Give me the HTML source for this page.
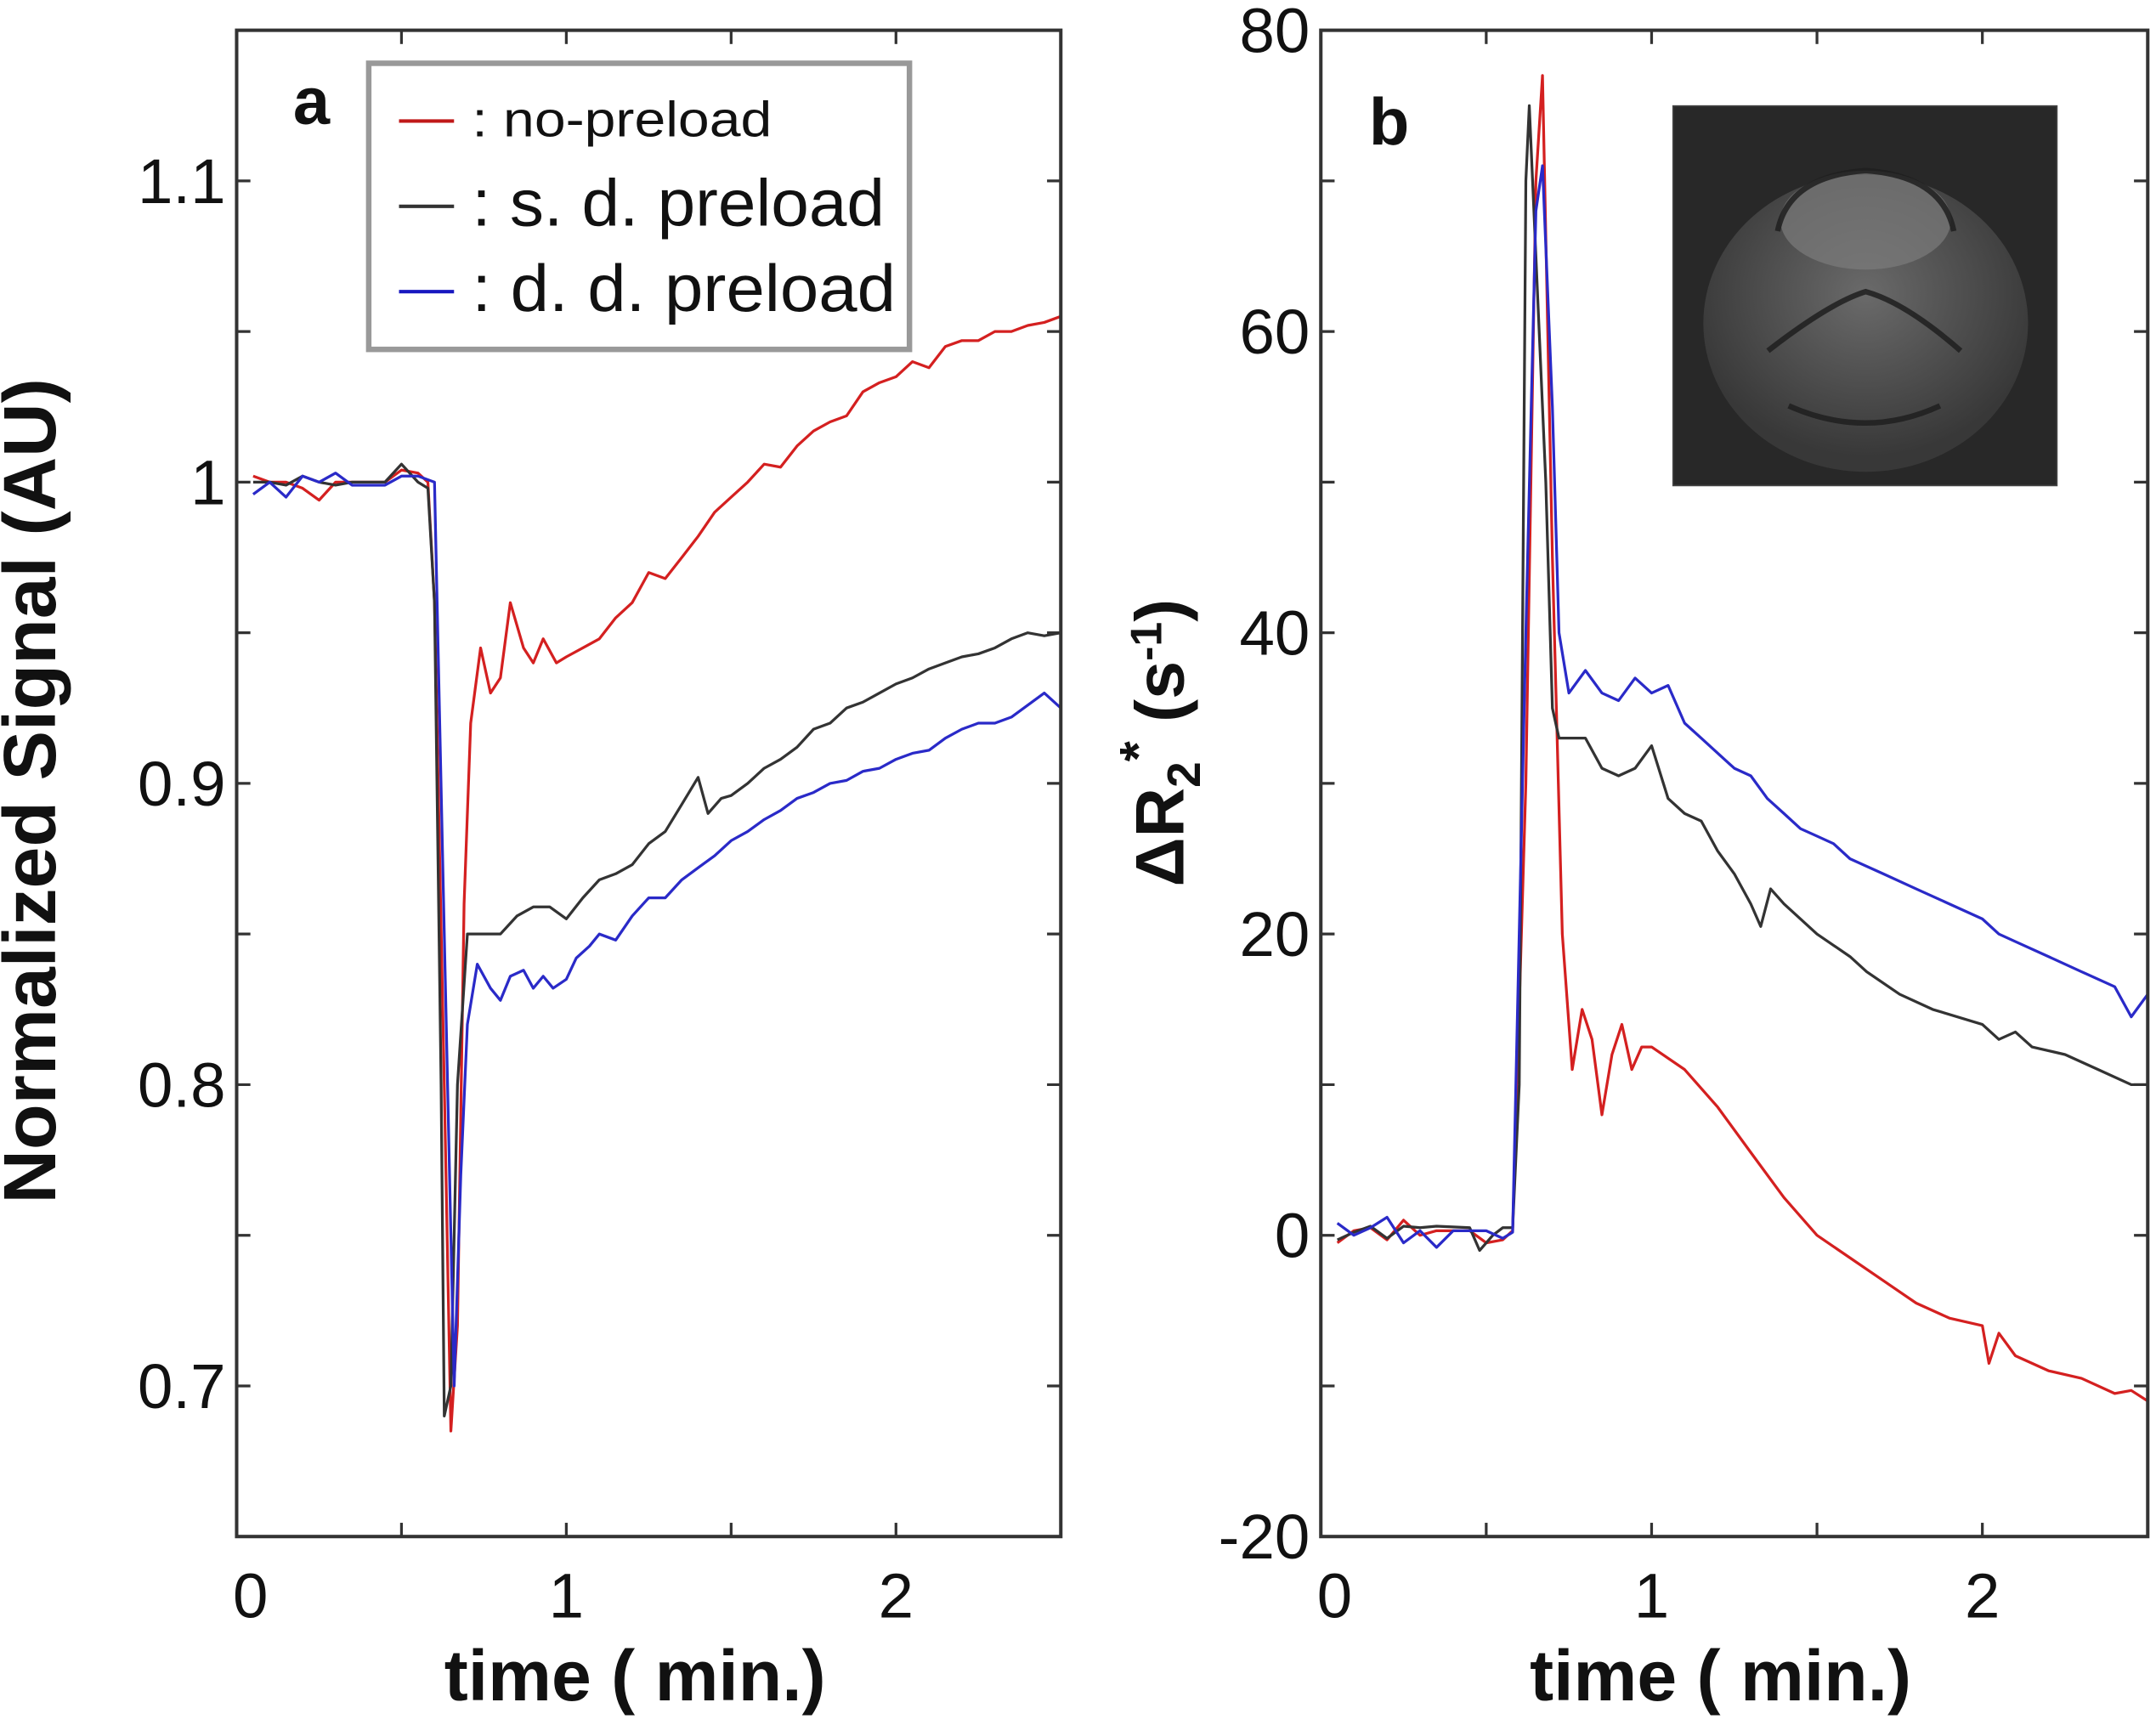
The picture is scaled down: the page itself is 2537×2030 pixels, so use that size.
<!DOCTYPE html>
<html><head><meta charset="utf-8"><style>
html,body{margin:0;padding:0;background:#fff;}
svg{display:block;font-family:"Liberation Sans",sans-serif;}
</style></head><body>
<svg id="fig" width="2537" height="2030" viewBox="0 0 1567 1254" preserveAspectRatio="none" xmlns="http://www.w3.org/2000/svg">
<defs>
<radialGradient id="brain" cx="0.5" cy="0.4" r="0.55">
<stop offset="0" stop-color="#6a6a6a"/><stop offset="0.6" stop-color="#4c4c4c"/><stop offset="1" stop-color="#383838"/>
</radialGradient>
</defs>
<g id="pa"></g>
<g id="pb"></g>
</svg>
<script>
// ---- data panel a (Normalized Signal) ----
const aRedT=[0.05,0.1,0.15,0.2,0.25,0.3,0.35,0.45,0.5,0.55,0.58,0.6,0.63,0.65,0.67,0.69,0.71,0.74,0.77,0.8,0.83,0.87,0.9,0.93,0.97,1.0,1.05,1.1,1.15,1.2,1.25,1.3,1.35,1.4,1.45,1.5,1.55,1.6,1.65,1.7,1.75,1.8,1.85,1.9,1.95,2.0,2.05,2.1,2.15,2.2,2.25,2.3,2.35,2.4,2.45,2.5];
const aRedV=[1.002,1.0,1.0,0.998,0.994,1.0,1.0,1.0,1.004,1.003,1.0,0.96,0.8,0.685,0.72,0.86,0.92,0.945,0.93,0.935,0.96,0.945,0.94,0.948,0.94,0.942,0.945,0.948,0.955,0.96,0.97,0.968,0.975,0.982,0.99,0.995,1.0,1.006,1.005,1.012,1.017,1.02,1.022,1.03,1.033,1.035,1.04,1.038,1.045,1.047,1.047,1.05,1.05,1.052,1.053,1.055];
const aBlkT=[0.05,0.1,0.15,0.2,0.25,0.3,0.35,0.45,0.5,0.55,0.58,0.6,0.62,0.63,0.65,0.67,0.7,0.75,0.8,0.85,0.9,0.95,1.0,1.05,1.1,1.15,1.2,1.25,1.3,1.35,1.4,1.43,1.47,1.5,1.55,1.6,1.65,1.7,1.75,1.8,1.85,1.9,1.95,2.0,2.05,2.1,2.15,2.2,2.25,2.3,2.35,2.4,2.45,2.5];
const aBlkV=[1.0,1.0,0.999,1.002,1.0,0.999,1.0,1.0,1.006,1.0,0.998,0.96,0.8,0.69,0.7,0.8,0.85,0.85,0.85,0.856,0.859,0.859,0.855,0.862,0.868,0.87,0.873,0.88,0.884,0.893,0.902,0.89,0.895,0.896,0.9,0.905,0.908,0.912,0.918,0.92,0.925,0.927,0.93,0.933,0.935,0.938,0.94,0.942,0.943,0.945,0.948,0.95,0.949,0.95];
const aBluT=[0.05,0.1,0.15,0.2,0.25,0.3,0.35,0.45,0.5,0.55,0.6,0.63,0.66,0.68,0.7,0.73,0.77,0.8,0.83,0.87,0.9,0.93,0.96,1.0,1.03,1.07,1.1,1.15,1.2,1.25,1.3,1.35,1.4,1.45,1.5,1.55,1.6,1.65,1.7,1.75,1.8,1.85,1.9,1.95,2.0,2.05,2.1,2.15,2.2,2.25,2.3,2.35,2.4,2.45,2.5];
const aBluV=[0.996,1.0,0.995,1.002,1.0,1.003,0.999,0.999,1.002,1.002,1.0,0.85,0.7,0.77,0.82,0.84,0.832,0.828,0.836,0.838,0.832,0.836,0.832,0.835,0.842,0.846,0.85,0.848,0.856,0.862,0.862,0.868,0.872,0.876,0.881,0.884,0.888,0.891,0.895,0.897,0.9,0.901,0.904,0.905,0.908,0.91,0.911,0.915,0.918,0.92,0.92,0.922,0.926,0.93,0.925];
const aYTicks=[0.7,0.8,0.9,1.0,1.1];
const aYLabels=["0.7","0.8","0.9","1","1.1"];
// ---- data panel b (ΔR2*) ----
const bRedT=[0.05,0.1,0.15,0.2,0.25,0.3,0.35,0.45,0.5,0.55,0.58,0.62,0.65,0.67,0.7,0.73,0.76,0.79,0.82,0.85,0.88,0.91,0.94,0.97,1.0,1.1,1.2,1.3,1.4,1.5,1.6,1.7,1.8,1.9,2.0,2.02,2.05,2.1,2.2,2.3,2.4,2.45,2.5];
const bRedV=[-0.5,0.3,0.5,-0.3,1.0,0,0.3,0.3,-0.5,-0.3,0.3,30,70,77,45,20,11,15,13,8,12,14,11,12.5,12.5,11,8.5,5.5,2.5,0,-1.5,-3,-4.5,-5.5,-6,-8.5,-6.5,-8,-9,-9.5,-10.5,-10.3,-11];
const bBlkT=[0.05,0.1,0.15,0.2,0.25,0.3,0.35,0.45,0.48,0.52,0.55,0.58,0.6,0.62,0.63,0.65,0.68,0.7,0.72,0.8,0.85,0.9,0.95,1.0,1.05,1.1,1.15,1.2,1.25,1.3,1.33,1.36,1.4,1.5,1.6,1.65,1.75,1.85,2.0,2.05,2.1,2.15,2.25,2.35,2.45,2.5];
const bBlkV=[-0.3,0.2,0.6,-0.2,0.6,0.5,0.6,0.5,-1,0,0.5,0.5,10,70,75,65,50,35,33,33,31,30.5,31,32.5,29,28,27.5,25.5,24,22,20.5,23,22,20,18.5,17.5,16,15,14,13,13.5,12.5,12,11,10,10];
const bBluT=[0.05,0.1,0.15,0.2,0.25,0.3,0.35,0.4,0.5,0.55,0.58,0.62,0.65,0.67,0.7,0.72,0.75,0.8,0.85,0.9,0.95,1.0,1.05,1.1,1.15,1.2,1.25,1.3,1.35,1.4,1.45,1.5,1.55,1.6,1.7,1.8,1.9,2.0,2.05,2.1,2.2,2.3,2.4,2.45,2.5];
const bBluV=[0.8,0,0.5,1.2,-0.5,0.3,-0.8,0.3,0.3,-0.2,0.2,40,68,71,55,40,36,37.5,36,35.5,37,36,36.5,34,33,32,31,30.5,29,28,27,26.5,26,25,24,23,22,21,20,19.5,18.5,17.5,16.5,14.5,16];
const bYTicks=[-20,0,20,40,60,80];
const bYLabels=["-20","0","20","40","60","80"];
const xTicks=[0,1,2];
const xLabels=["0","1","2"];
const NS="http://www.w3.org/2000/svg";
function mk(parent,tag,attrs,txt){const e=document.createElementNS(NS,tag);for(const k in attrs)e.setAttribute(k,attrs[k]);if(txt!==undefined)e.textContent=txt;parent.appendChild(e);return e;}
const colors={red:"#d42020",blk:"#333333",blu:"#2a2ac8"};
function panel(g,left,right,ymin,ymax,minorStep,yTicks,yLabels,series,prefix){
  const top=22,bot=1117;
  const sx=t=>left+(t-0)/2.5*(right-left);
  const sy=v=>bot-(v-ymin)/(ymax-ymin)*(bot-top);
  series.forEach(s=>{
    const d=s.t.map((t,i)=>(i?"L":"M")+sx(t).toFixed(1)+","+sy(s.v[i]).toFixed(1)).join("");
    const p=mk(g,"path",{d:d,fill:"none",stroke:colors[s.c],"stroke-width":2,"stroke-linejoin":"round"});
    
    
  });
  const f=mk(g,"rect",{x:left,y:top,width:right-left,height:bot-top,fill:"none",stroke:"#333","stroke-width":2.5});
  
  
  for(let v=ymin+minorStep;v<ymax-1e-9;v+=minorStep){
    const y=sy(v);
    mk(g,"line",{x1:left,x2:left+10,y1:y,y2:y,stroke:"#333","stroke-width":2});
    mk(g,"line",{x1:right-10,x2:right,y1:y,y2:y,stroke:"#333","stroke-width":2});
  }
  yTicks.forEach((v,i)=>{
    const t=mk(g,"text",{x:left-8,y:sy(v)+16,"text-anchor":"end","font-size":46,fill:"#111"},yLabels[i]);
    
    
  });
  for(let tv=0.5;tv<2.5;tv+=0.5){
    const x=sx(tv);
    mk(g,"line",{x1:x,x2:x,y1:bot-10,y2:bot,stroke:"#333","stroke-width":2});
    mk(g,"line",{x1:x,x2:x,y1:top,y2:top+10,stroke:"#333","stroke-width":2});
  }
  xTicks.forEach((v,i)=>{
    const t=mk(g,"text",{x:sx(v)+(v===0?10:0),y:1176,"text-anchor":"middle","font-size":46,fill:"#111"},xLabels[i]);
    
    
  });
  const xt=mk(g,"text",{x:(left+right)/2-10,y:1236,"text-anchor":"middle","font-size":52,"font-weight":"bold",fill:"#111"},"time ( min.)");
  
  
}
const pa=document.getElementById("pa"), pb=document.getElementById("pb");
panel(pa,172,771,0.65,1.15,0.05,aYTicks,aYLabels,[{t:aRedT,v:aRedV,c:"red",n:"no-preload"},{t:aBlkT,v:aBlkV,c:"blk",n:"sd-preload"},{t:aBluT,v:aBluV,c:"blu",n:"dd-preload"}],"a");
panel(pb,960,1561,-20,80,10,bYTicks,bYLabels,[{t:bRedT,v:bRedV,c:"red",n:"no-preload"},{t:bBlkT,v:bBlkV,c:"blk",n:"sd-preload"},{t:bBluT,v:bBluV,c:"blu",n:"dd-preload"}],"b");
</script>
<script>
(function(){
const NS="http://www.w3.org/2000/svg";
const pa=document.getElementById("pa"), pb=document.getElementById("pb");
function add(p,tag,attrs,txt){const e=document.createElementNS(NS,tag);for(const k in attrs)e.setAttribute(k,attrs[k]);if(txt!==undefined)e.textContent=txt;p.appendChild(e);return e;}
let e;
e=add(pa,"text",{x:40,y:575,"text-anchor":"middle","font-size":54,"font-weight":"bold",fill:"#111",transform:"rotate(-90 40 575)",textLength:600,lengthAdjust:"spacingAndGlyphs"},"Normalized Signal (AU)");


e=add(pa,"text",{x:213,y:90,"font-size":48,"font-weight":"bold",fill:"#111"},"a");


const lg=add(pa,"g",{});


add(lg,"rect",{x:268,y:46,width:393,height:208,fill:"#fff",stroke:"#999","stroke-width":4});
const ents=[["#c01818",88,": no-preload",36,218],["#333",150,": s. d. preload",48,300],["#1818c0",212,": d. d. preload",48,308]];
ents.forEach(en=>{
  const g=add(lg,"g",{});
  
  
  add(g,"line",{x1:290,x2:330,y1:en[1],y2:en[1],stroke:en[0],"stroke-width":2.5});
  add(g,"text",{x:343,y:en[1]+(en[3]>40?14:11),"font-size":en[3],fill:"#111",textLength:en[4],lengthAdjust:"spacingAndGlyphs"},en[2]);
});
e=add(pb,"text",{x:860,y:540,"text-anchor":"middle","font-size":50,"font-weight":"bold",fill:"#111",transform:"rotate(-90 860 540)"});


e.innerHTML='ΔR<tspan font-size="34" dy="12">2</tspan><tspan font-size="38" dy="-32">*</tspan><tspan dy="20"> (s</tspan><tspan font-size="32" dy="-16">-1</tspan><tspan dy="16">)</tspan>';
e=add(pb,"text",{x:995,y:105,"font-size":48,"font-weight":"bold",fill:"#111"},"b");


const ins=add(pb,"g",{});


add(ins,"rect",{x:1216,y:77,width:279,height:276,fill:"#282828",stroke:"#444","stroke-width":1});
add(ins,"ellipse",{cx:1356,cy:235,rx:118,ry:108,fill:"url(#brain)"});
add(ins,"ellipse",{cx:1356,cy:160,rx:62,ry:36,fill:"#7c7c7c",opacity:0.7});
add(ins,"path",{d:"M1292,168 Q1300,128 1356,124 Q1412,128 1420,168 M1285,255 Q1330,220 1356,212 Q1385,220 1425,255 M1300,295 Q1356,320 1410,295",fill:"none",stroke:"#1e1e1e","stroke-width":4,opacity:0.85});
})();
</script>
</body></html>
